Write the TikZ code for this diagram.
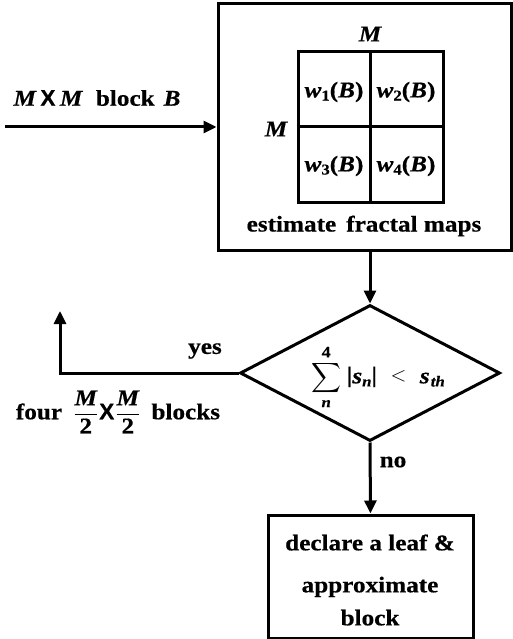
\documentclass[tikz,border=0pt]{standalone}
\usepackage{amsmath}
\usepackage{fontspec}
\setmainfont{Liberation Serif}[FakeStretch=1.12,BoldFeatures={FakeBold=0.5},BoldItalicFeatures={FakeBold=0.5}]
\newfontfamily\xsans{Liberation Sans}[FakeBold=0.5]
\usetikzlibrary{shapes.geometric,arrows.meta}
\newcommand{\bi}[1]{{\bfseries\itshape #1}}
\newcommand{\smallsub}[1]{\raisebox{-0.3ex}{\fontsize{15}{15}\selectfont\bfseries #1}}
\newcommand{\bigX}{{\xsans\bfseries X}}
\begin{document}
\begin{tikzpicture}[x=1pt,y=-1pt,
  font=\fontsize{22.5}{26}\selectfont\bfseries,
  ln/.style={line width=3pt},
  arr/.style={ln,-{Triangle[length=13pt,width=12pt]}},
  box/.style={draw,ln,inner sep=0pt},
  lbl/.style={inner sep=0pt}]
\useasboundingbox (0,0) rectangle (513,639);

% estimate box
\node[box,minimum width=293pt,minimum height=246pt] (est) at (364.5,127) {};
% grid
\node[box,minimum width=145pt,minimum height=150pt] (grid) at (370.5,127) {};
\draw[ln] (grid.north) -- (grid.south);
\draw[ln] (grid.west) -- (grid.east);
\node[lbl] (w1) at (334,92) {\bi{w}\smallsub{1}(\bi{B})};
\node[lbl] (w2) at (406,92) {\bi{w}\smallsub{2}(\bi{B})};
\node[lbl] (w3) at (334,166) {\bi{w}\smallsub{3}(\bi{B})};
\node[lbl] (w4) at (406,166) {\bi{w}\smallsub{4}(\bi{B})};
\node[lbl] (mtop) at (370,34) {\bi{M}};
\node[lbl] (mleft) at (276,129) {\bi{M}};
\node[lbl] (estt) at (364,226) {estimate\, fractal maps};

% input
\coordinate (in) at (5,127);
\draw[arr] (in) -- (est.west);
\node[lbl] (inl) at (97,98) {\bi{M}\hspace{0.2em}\bigX\hspace{0.2em}\bi{M}\hspace{0.6em}block\hspace{0.4em}\bi{B}};

% decision
\node[draw,ln,diamond,aspect=2,minimum width=260pt,minimum height=136pt,inner sep=0pt] (dec) at (370,373) {};
\node[lbl] (form) at (378,377) {$\displaystyle\sum_{\hbox{\fontsize{15}{15}\selectfont\bi{n}}}^{\hbox{\fontsize{16}{16}\selectfont\bfseries 4}}$\hspace{0.25em}\raisebox{0.1ex}{|}\bi{s}\smallsub{\itshape n}\raisebox{0.1ex}{|}\hspace{0.6em}\raisebox{0.2ex}{$<$}\hspace{0.6em}\bi{s}\hspace{0.05em}\smallsub{\itshape th}};
\draw[arr] (est.south -| dec.north) -- (dec.north);

% yes branch
\coordinate (up) at (60,311);
\draw[arr] (dec.west) -| (up);
\node[lbl] (yes) at (205,351) {yes};
\node[lbl] (four) at (118,412) {four\hspace{0.5em}$\dfrac{\hbox{\bi{M}}}{\hbox{\bfseries 2}}$\hspace{0.05em}\bigX\hspace{0.05em}$\dfrac{\hbox{\bi{M}}}{\hbox{\bfseries 2}}$\hspace{0.5em}blocks};

% no branch
\node[box,minimum width=205pt,minimum height=123pt] (leaf) at (370.5,576.5) {};
\node[lbl,align=center] (leaft) at (370,580) {declare a leaf \&\\[16pt] approximate\\[7pt] block};
\draw[arr] (dec.south) -- (leaf.north);
\node[lbl] (no) at (393,462) {no};
\end{tikzpicture}
\end{document}
